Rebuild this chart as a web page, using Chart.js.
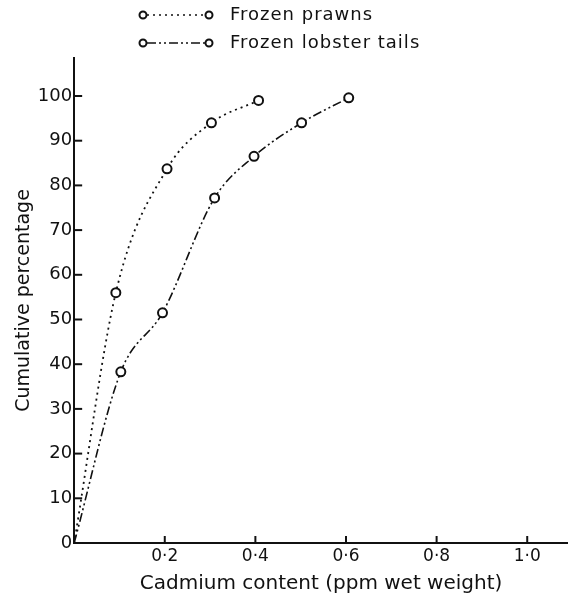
<!DOCTYPE html>
<html>
<head>
<meta charset="utf-8">
<script src="https://cdn.jsdelivr.net/npm/chart.js@4"></script>
<style>
  html, body { margin: 0; padding: 0; background: #fff; }
  #wrap { position: relative; width: 568px; height: 597px; }
</style>
</head>
<body>
<div id="wrap"><canvas id="cdChart"></canvas></div>
<script>
const prawnX = [0, 0.092, 0.205, 0.303, 0.407];
const prawnY = [0, 56, 83.7, 94, 99];
const lobsterX = [0, 0.103, 0.195, 0.31, 0.397, 0.502, 0.606];
const lobsterY = [0, 38.3, 51.5, 77.2, 86.5, 94, 99.6];
const seriesNames = ['Frozen prawns', 'Frozen lobster tails'];
const xTicks = [0.2, 0.4, 0.6, 0.8, 1.0];
const yTicks = [0, 10, 20, 30, 40, 50, 60, 70, 80, 90, 100];

const FONT = '"DejaVu Sans", sans-serif';
const prawnDash = [2, 4];
const lobsterDash = [9, 3, 2, 3, 2, 3];

const toPoints = (xs, ys) => xs.map((x, i) => ({x: x, y: ys[i]}));

// inward ticks + legend drawn by hand
const paperBits = {
    id: 'paperBits',
    afterDraw(chart) {
        const c = chart.ctx;
        const xs = chart.scales.x, ys = chart.scales.y;
        const area = chart.chartArea;
        c.save();
        c.strokeStyle = '#111';
        c.lineWidth = 2;
        xTicks.forEach(v => {
            const px = xs.getPixelForValue(v);
            c.beginPath();
            c.moveTo(px, area.bottom);
            c.lineTo(px, area.bottom - 7);
            c.stroke();
        });
        yTicks.forEach(v => {
            const py = ys.getPixelForValue(v);
            c.beginPath();
            c.moveTo(area.left, py);
            c.lineTo(area.left + 8, py);
            c.stroke();
        });

        const dashes = [prawnDash, lobsterDash];
        const rows = [15, 43];
        rows.forEach((ry, i) => {
            c.setLineDash(dashes[i]);
            c.lineWidth = 1.6;
            c.beginPath();
            c.moveTo(147, ry);
            c.lineTo(205, ry);
            c.stroke();
            c.setLineDash([]);
            c.lineWidth = 2;
            [143, 209].forEach(cx => {
                c.beginPath();
                c.arc(cx, ry, 3.5, 0, Math.PI * 2);
                c.fillStyle = '#fff';
                c.fill();
                c.stroke();
            });
            c.fillStyle = '#111';
            c.font = '18px ' + FONT;
            c.letterSpacing = '1px';
            c.textBaseline = 'middle';
            c.fillText(seriesNames[i], 230, ry);
        });
        c.restore();
    }
};

const pointR = ctx => ctx.dataIndex === 0 ? 0 : 4.5;

new Chart(document.getElementById('cdChart'), {
    type: 'line',
    data: {
        datasets: [
            {
                label: seriesNames[0],
                data: toPoints(prawnX, prawnY),
                borderColor: '#111',
                borderWidth: 1.8,
                borderDash: prawnDash,
                pointRadius: pointR,
                pointBorderWidth: 2,
                pointBackgroundColor: '#fff',
                pointBorderColor: '#111',
                cubicInterpolationMode: 'monotone',
                fill: false
            },
            {
                label: seriesNames[1],
                data: toPoints(lobsterX, lobsterY),
                borderColor: '#111',
                borderWidth: 1.6,
                borderDash: lobsterDash,
                pointRadius: pointR,
                pointBorderWidth: 2,
                pointBackgroundColor: '#fff',
                pointBorderColor: '#111',
                cubicInterpolationMode: 'monotone',
                fill: false
            }
        ]
    },
    options: {
        responsive: true,
        maintainAspectRatio: false,
        animation: false,
        layout: {
            autoPadding: false,
            padding: {top: 58, right: 0, left: 13, bottom: 3}
        },
        scales: {
            x: {
                type: 'linear',
                min: 0,
                max: 1.09,
                border: {display: true, color: '#111', width: 2},
                grid: {display: false, drawTicks: false},
                afterBuildTicks: axis => { axis.ticks = xTicks.map(v => ({value: v})); },
                afterFit: axis => { axis.paddingRight = 0; },
                ticks: {
                    color: '#111',
                    font: {family: FONT, size: 17, lineHeight: 1},
                    padding: 5,
                    maxRotation: 0,
                    callback: v => v.toFixed(1).replace('.', '·')
                },
                title: {
                    display: true,
                    text: 'Cadmium content (ppm wet weight)',
                    color: '#111',
                    font: {family: FONT, size: 20, lineHeight: 1},
                    padding: {top: 4, bottom: 0}
                }
            },
            y: {
                type: 'linear',
                min: 0,
                max: 108.5,
                border: {display: true, color: '#111', width: 2},
                grid: {display: false, drawTicks: false},
                afterBuildTicks: axis => { axis.ticks = yTicks.map(v => ({value: v})); },
                ticks: {
                    color: '#111',
                    font: {family: FONT, size: 18},
                    padding: 2
                },
                title: {
                    display: true,
                    text: 'Cumulative percentage',
                    color: '#111',
                    font: {family: FONT, size: 19},
                    padding: {top: 0, bottom: 0}
                }
            }
        },
        plugins: {
            legend: {display: false},
            tooltip: {enabled: false}
        }
    },
    plugins: [paperBits]
});
</script>
</body>
</html>
